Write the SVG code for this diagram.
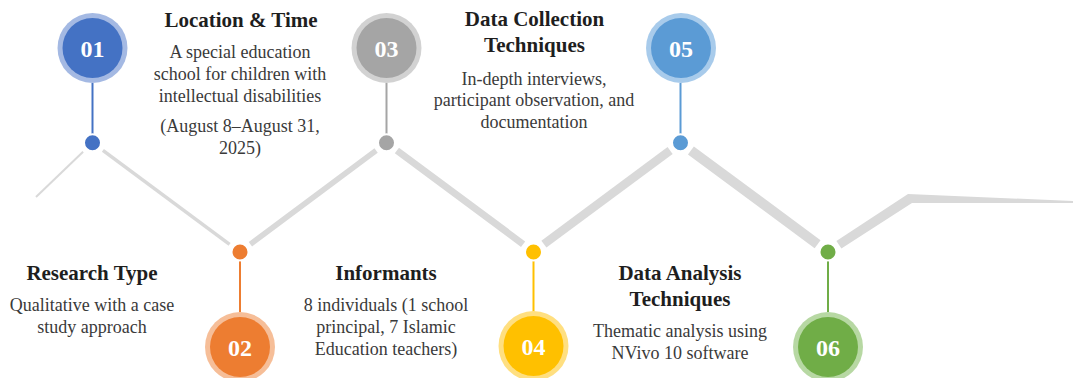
<svg xmlns="http://www.w3.org/2000/svg" width="1073" height="378" viewBox="0 0 1073 378">
<style>
.ln{stroke:#d9d9d9;fill:none;stroke-linecap:butt}
.title{font-family:"Liberation Serif",serif;font-weight:bold;font-size:21px;fill:#1e1e1e;text-anchor:middle}
.body{font-family:"Liberation Serif",serif;font-size:18px;fill:#3a3a3a;text-anchor:middle}
.num{font-family:"Liberation Serif",serif;font-weight:bold;font-size:24px;fill:#ffffff;text-anchor:middle}
.dot{stroke:#ffffff;stroke-width:2}
</style>
<rect width="1073" height="378" fill="#ffffff"/>
<g id="connectors">
<line class="ln" x1="36" y1="197" x2="83.1" y2="151.7" stroke-width="2"/>
<line class="ln" x1="102.9" y1="150.4" x2="229.6" y2="244.3" stroke-width="3.5"/>
<line class="ln" x1="250.4" y1="244.2" x2="376.1" y2="150.5" stroke-width="5.5"/>
<line class="ln" x1="396.9" y1="150.5" x2="523.1" y2="244.2" stroke-width="7"/>
<line class="ln" x1="543.9" y1="244.2" x2="670.1" y2="150.5" stroke-width="8.5"/>
<line class="ln" x1="690.9" y1="150.4" x2="817.6" y2="244.3" stroke-width="10"/>
<polygon points="836.4,241 908,194 1073,201 1073,203 912,203 841.4,248.6" fill="#d9d9d9"/>
<line x1="92.5" y1="83" x2="92.5" y2="134" stroke="#4472c4" stroke-width="2"/>
<line x1="240" y1="261" x2="240" y2="312" stroke="#ed7d31" stroke-width="2"/>
<line x1="386.5" y1="83" x2="386.5" y2="134" stroke="#a5a5a5" stroke-width="2"/>
<line x1="533.5" y1="261" x2="533.5" y2="312" stroke="#ffc000" stroke-width="2"/>
<line x1="680.5" y1="83" x2="680.5" y2="134" stroke="#5b9bd5" stroke-width="2"/>
<line x1="828" y1="261" x2="828" y2="312" stroke="#70ad47" stroke-width="2"/>
</g>
<g id="node01">
<circle cx="92.5" cy="48" r="35" fill="#a4b9e3"/>
<circle cx="92.5" cy="48" r="30" fill="#4472c4"/>
<text class="num" x="92.5" y="56.5">01</text>
<circle class="dot" cx="92.5" cy="142.7" r="8.5" fill="#4472c4"/>
<text class="title" x="241" y="27">Location &amp; Time</text>
<text class="body" x="240" y="58">A special education</text>
<text class="body" x="240" y="80">school for children with</text>
<text class="body" x="240" y="102">intellectual disabilities</text>
<text class="body" x="240" y="132">(August 8–August 31,</text>
<text class="body" x="240" y="154">2025)</text>
</g>
<g id="node02">
<circle cx="240" cy="347" r="35" fill="#f6be98"/>
<circle cx="240" cy="347" r="30" fill="#ed7d31"/>
<text class="num" x="240" y="355.5">02</text>
<circle class="dot" cx="240" cy="252" r="8.5" fill="#ed7d31"/>
<text class="title" x="92" y="280">Research Type</text>
<text class="body" x="92" y="311">Qualitative with a case</text>
<text class="body" x="92" y="333">study approach</text>
</g>
<g id="node03">
<circle cx="386.5" cy="48" r="35" fill="#d2d2d2"/>
<circle cx="386.5" cy="48" r="30" fill="#a5a5a5"/>
<text class="num" x="386.5" y="56.5">03</text>
<circle class="dot" cx="386.5" cy="142.7" r="8.5" fill="#a5a5a5"/>
<text class="title" x="534.5" y="26">Data Collection</text>
<text class="title" x="534.5" y="52">Techniques</text>
<text class="body" x="534" y="85">In-depth interviews,</text>
<text class="body" x="534" y="106">participant observation, and</text>
<text class="body" x="534" y="128">documentation</text>
</g>
<g id="node04">
<circle cx="533.5" cy="346" r="35" fill="#ffdf80"/>
<circle cx="533.5" cy="346" r="30" fill="#ffc000"/>
<text class="num" x="533.5" y="354.5">04</text>
<circle class="dot" cx="533.5" cy="252" r="8.5" fill="#ffc000"/>
<text class="title" x="386" y="280">Informants</text>
<text class="body" x="386" y="311">8 individuals (1 school</text>
<text class="body" x="386" y="333">principal, 7 Islamic</text>
<text class="body" x="386" y="355">Education teachers)</text>
</g>
<g id="node05">
<circle cx="681" cy="48" r="35" fill="#a8cbeb"/>
<circle cx="681" cy="48" r="30" fill="#5b9bd5"/>
<text class="num" x="681" y="56.5">05</text>
<circle class="dot" cx="680.5" cy="142.7" r="8.5" fill="#5b9bd5"/>
</g>
<g id="node06">
<circle cx="828" cy="347" r="35" fill="#b7d8a3"/>
<circle cx="828" cy="347" r="30" fill="#70ad47"/>
<text class="num" x="828" y="355.5">06</text>
<circle class="dot" cx="828" cy="252" r="8.5" fill="#70ad47"/>
<text class="title" x="680" y="280">Data Analysis</text>
<text class="title" x="680" y="306">Techniques</text>
<text class="body" x="680" y="337">Thematic analysis using</text>
<text class="body" x="680" y="359">NVivo 10 software</text>
</g>
</svg>
